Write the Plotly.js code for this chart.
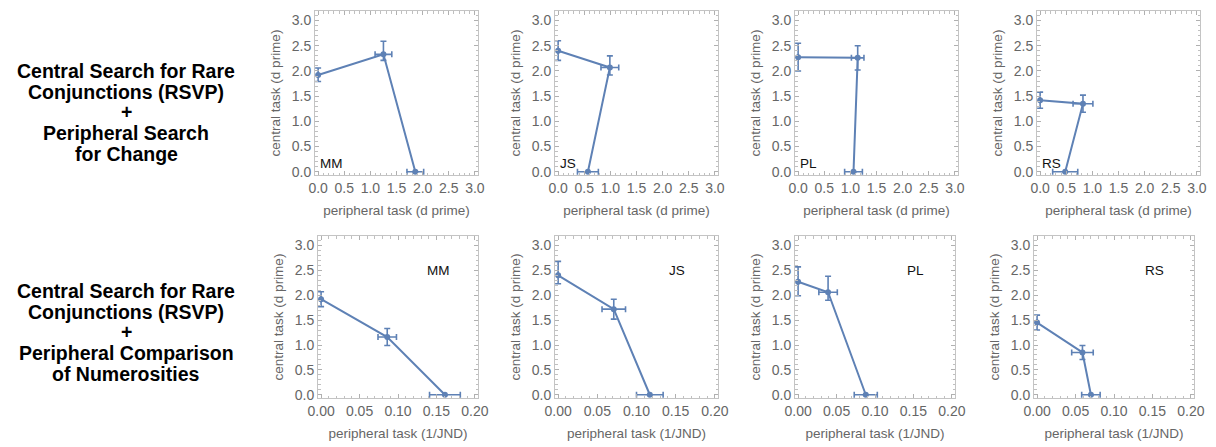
<!DOCTYPE html>
<html>
<head>
<meta charset="utf-8">
<script src="https://cdn.plot.ly/plotly-3.0.1.min.js"></script>
<style>html,body{margin:0;padding:0;background:#fff;}#chart{width:1216px;height:447px;}</style>
</head>
<body>
<div id="chart"></div>
<script>
// ---- data ----
const subjects = ['MM', 'JS', 'PL', 'RS'];

// Row 1: central RSVP + peripheral search for change (d prime)
const changePeripheral = [[0, 1.25, 1.86], [0, 0.99, 0.57], [0, 1.14, 1.06], [0, 0.82, 0.48]];
const changeCentral    = [[1.92, 2.33, 0], [2.40, 2.07, 0], [2.27, 2.26, 0], [1.42, 1.35, 0]];
const changePeriphErr  = [[0, 0.16, 0.16], [0, 0.17, 0.20], [0, 0.12, 0.17], [0, 0.19, 0.24]];
const changeCentralErrPlus  = [[0.14, 0.26, 0], [0.20, 0.23, 0], [0.28, 0.24, 0], [0.16, 0.17, 0]];
const changeCentralErrMinus = [[0.13, 0.12, 0], [0.19, 0.15, 0], [0.27, 0.24, 0], [0.16, 0.17, 0]];

// Row 2: central RSVP + peripheral comparison of numerosities (1/JND)
const numPeripheral = [[0, 0.086, 0.161], [0, 0.071, 0.117], [0, 0.039, 0.088], [0, 0.059, 0.070]];
const numCentral    = [[1.92, 1.16, 0], [2.40, 1.72, 0], [2.27, 2.06, 0], [1.45, 0.85, 0]];
const numPeriphErr  = [[0, 0.012, 0.020], [0, 0.015, 0.017], [0, 0.012, 0.015], [0, 0.014, 0.012]];
const numCentralErrPlus  = [[0.15, 0.17, 0], [0.28, 0.20, 0], [0.30, 0.32, 0], [0.15, 0.14, 0]];
const numCentralErrMinus = [[0.15, 0.17, 0], [0.17, 0.20, 0], [0.28, 0.16, 0], [0.15, 0.14, 0]];

const rowHeading1 = ['Central Search for Rare', 'Conjunctions (RSVP)', '+', 'Peripheral Search', 'for Change'];
const rowHeading2 = ['Central Search for Rare', 'Conjunctions (RSVP)', '+', 'Peripheral Comparison', 'of Numerosities'];

const yTitle = 'central task (d prime)';
const xTitle1 = 'peripheral task (d prime)';
const xTitle2 = 'peripheral task (1/JND)';

// ---- layout geometry (pixels) ----
const W = 1216, H = 447;
const topCols = [[315, 478], [555, 718], [795, 958], [1037, 1200]];
const botCols = [[318, 478], [555, 718], [795, 955], [1034, 1194]];
const topRow = [11, 175];
const botRow = [236, 398];

const blue = '#5E81B5';
const grayTxt = '#666666';
const frameCol = '#c4c4c4';
const FONT = '"Liberation Sans", Arial, Helvetica, sans-serif';

const traces = [];
const layout = {
  width: W, height: H,
  margin: {l: 0, r: 0, t: 0, b: 0},
  paper_bgcolor: '#fff', plot_bgcolor: '#fff',
  showlegend: false,
  font: {family: FONT, color: grayTxt},
  annotations: []
};

function axisCommon() {
  return {
    showgrid: false, zeroline: false,
    showline: true, linecolor: frameCol, linewidth: 1, mirror: 'ticks',
    ticks: 'inside', ticklen: 4, tickwidth: 1, tickcolor: '#b0b0b0',
    tickfont: {family: FONT, size: 14, color: grayTxt},
    automargin: false,
    fixedrange: true
  };
}

let idx = 1;
function addPanel(row, col, xs, ys, xe, yep, yem, name) {
  const cols = row === 0 ? topCols : botCols;
  const rows = row === 0 ? topRow : botRow;
  const xa = 'xaxis' + (idx === 1 ? '' : idx);
  const ya = 'yaxis' + (idx === 1 ? '' : idx);
  const xr = 'x' + (idx === 1 ? '' : idx);
  const yr = 'y' + (idx === 1 ? '' : idx);

  const xAxis = axisCommon();
  xAxis.domain = [cols[col][0] / W, cols[col][1] / W];
  xAxis.anchor = yr;
  if (row === 0) {
    xAxis.range = [-0.06, 3.06];
    xAxis.tickvals = [0, 0.5, 1, 1.5, 2, 2.5, 3];
    xAxis.tickformat = '.1f';
    xAxis.minor = {dtick: 0.1, ticks: 'inside', ticklen: 2.5, tickcolor: '#c0c0c0', tick0: 0};
    xAxis.title = {text: xTitle1, font: {family: FONT, size: 13.5, color: grayTxt}, standoff: 10};
  } else {
    xAxis.range = [-0.004, 0.204];
    xAxis.tickvals = [0, 0.05, 0.1, 0.15, 0.2];
    xAxis.tickformat = '.2f';
    xAxis.minor = {dtick: 0.01, ticks: 'inside', ticklen: 2.5, tickcolor: '#c0c0c0', tick0: 0};
    xAxis.title = {text: xTitle2, font: {family: FONT, size: 13.5, color: grayTxt}, standoff: 10};
  }
  const yAxis = axisCommon();
  yAxis.domain = [1 - rows[1] / H, 1 - rows[0] / H];
  yAxis.anchor = xr;
  yAxis.range = [-0.065, 3.19];
  yAxis.tickvals = [0, 0.5, 1, 1.5, 2, 2.5, 3];
  yAxis.tickformat = '.1f';
  yAxis.minor = {dtick: 0.1, ticks: 'inside', ticklen: 2.5, tickcolor: '#c0c0c0', tick0: 0};
  yAxis.title = {text: yTitle, font: {family: FONT, size: 13.5, color: grayTxt}, standoff: 8};

  layout[xa] = xAxis;
  layout[ya] = yAxis;

  traces.push({
    type: 'scatter', mode: 'lines+markers',
    x: xs, y: ys, xaxis: xr, yaxis: yr,
    line: {color: blue, width: 2},
    marker: {color: blue, size: 6},
    error_x: {type: 'data', array: xe, color: blue, thickness: 1.6, width: 3},
    error_y: {type: 'data', array: yep, arrayminus: yem, symmetric: false, color: blue, thickness: 1.6, width: 3},
    hoverinfo: 'x+y'
  });

  if (row === 0) {
    layout.annotations.push({
      xref: xr, yref: yr, x: 0.0, y: 0.17, xanchor: 'left', yanchor: 'middle',
      text: name, showarrow: false, font: {family: FONT, size: 13.5, color: '#111'}
    });
  } else {
    layout.annotations.push({
      xref: xr, yref: yr, x: 0.152, y: 2.5, xanchor: 'center', yanchor: 'middle',
      text: name, showarrow: false, font: {family: FONT, size: 13.5, color: '#111'}
    });
  }
  idx++;
}

for (let c = 0; c < 4; c++) {
  addPanel(0, c, changePeripheral[c], changeCentral[c], changePeriphErr[c],
           changeCentralErrPlus[c], changeCentralErrMinus[c], subjects[c]);
}
for (let c = 0; c < 4; c++) {
  addPanel(1, c, numPeripheral[c], numCentral[c], numPeriphErr[c],
           numCentralErrPlus[c], numCentralErrMinus[c], subjects[c]);
}

// Row headings
const lineY1 = [71, 92, 112, 133, 154];
const lineY2 = [291, 312, 332, 353, 374];
function addHeading(lines, ys) {
  lines.forEach((t, i) => {
    layout.annotations.push({
      xref: 'paper', yref: 'paper', x: 126 / W, y: 1 - ys[i] / H,
      xanchor: 'center', yanchor: 'middle', showarrow: false,
      text: '<b>' + t + '</b>',
      font: {family: FONT, size: 19.5, color: '#000'}
    });
  });
}
addHeading(rowHeading1, lineY1);
addHeading(rowHeading2, lineY2);

Plotly.newPlot('chart', traces, layout, {displayModeBar: false, staticPlot: true});
</script>
</body>
</html>
